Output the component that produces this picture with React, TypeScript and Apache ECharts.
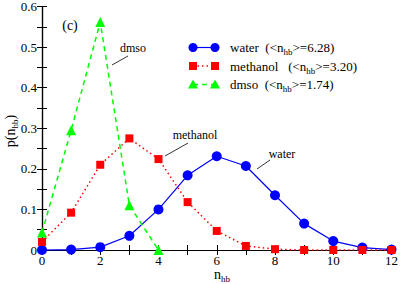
import React, { useEffect, useRef } from "react";
import * as echarts from "echarts";

const nValues = [0, 1, 2, 3, 4, 5, 6, 7, 8, 9, 10, 11, 12];
const waterP = [0.0, 0.001, 0.007, 0.035, 0.1, 0.184, 0.231, 0.207, 0.135, 0.065, 0.022, 0.006, 0.001];
const methanolP = [0.02, 0.092, 0.21, 0.275, 0.224, 0.118, 0.047, 0.01, 0.002, 0.0, 0.0, 0.0, 0.0];
const dmsoN = [0, 1, 2, 3, 4];
const dmsoP = [0.043, 0.295, 0.562, 0.11, 0.0];
const legendLabels = [
  { name: "water", mean: "6.28" },
  { name: "methanol", mean: "3.20" },
  { name: "dmso", mean: "1.74" },
];

const FONT = "Liberation Serif";

export default function App() {
  const ref = useRef<HTMLDivElement>(null);
  useEffect(() => {
    if (!ref.current) return;
    const chart = echarts.init(ref.current, null, { renderer: "svg" });
    const axisCommon = {
      axisLine: { show: true, lineStyle: { color: "#000", width: 1.2 } },
      axisTick: { show: true, inside: true, length: 5, lineStyle: { color: "#000", width: 1 } },
      splitLine: { show: false },
    };
    const rich = {
      a: { fontFamily: FONT, fontSize: 13, color: "#000", lineHeight: 16 },
      s: { fontFamily: FONT, fontSize: 9, color: "#000", lineHeight: 16, padding: [9, 0, 0, 0] },
    };
    const legendY = [47.5, 66, 84.5];
    const colors = ["#0000ff", "#ff0000", "#00ff00"];
    const legendGraphics: any[] = [];
    legendLabels.forEach((l, i) => {
      const y = legendY[i];
      const c = colors[i];
      legendGraphics.push({
        type: "line",
        shape: { x1: 193, y1: y, x2: 215, y2: y },
        style: { stroke: c, lineWidth: i === 0 ? 1.2 : 1.5, lineDash: i === 0 ? null : i === 1 ? [1.5, 3] : [5, 4] },
      });
      [193, 215].forEach((x) => {
        if (i === 0) legendGraphics.push({ type: "circle", shape: { cx: x, cy: y, r: 4.5 }, style: { fill: c } });
        else if (i === 1) legendGraphics.push({ type: "rect", shape: { x: x - 4, y: y - 4, width: 8, height: 8 }, style: { fill: c } });
        else legendGraphics.push({ type: "polygon", shape: { points: [[x, y - 5], [x - 5, y + 4], [x + 5, y + 4]] }, style: { fill: c } });
      });
      legendGraphics.push({
        type: "text",
        x: 230,
        y: y,
        style: {
          text: `{a|${l.name}${i === 1 ? "   " : "  "}(<n}{s|hb}{a|>=${l.mean})}`,
          rich,
          verticalAlign: "middle",
          align: "left",
        },
      });
    });
    chart.setOption({
      animation: false,
      grid: { left: 42, right: 6, top: 5, bottom: 34 },
      xAxis: [
        {
          type: "value", min: 0, max: 12, interval: 1, position: "bottom",
          ...axisCommon,
          axisLabel: {
            fontFamily: FONT, fontSize: 13, color: "#000", margin: 4,
            formatter: (v: number) => (Math.round(v) % 2 === 0 ? String(Math.round(v)) : ""),
          },
        },
        {
          type: "value", min: 0, max: 12, interval: 1, position: "top",
          ...axisCommon, axisLabel: { show: false },
        },
      ],
      yAxis: [
        {
          type: "value", min: 0, max: 0.6, interval: 0.05, position: "left",
          ...axisCommon,
          axisLabel: {
            fontFamily: FONT, fontSize: 13, color: "#000", margin: 5,
            formatter: (v: number) => {
              const k = Math.round(v * 100);
              if (k % 10 !== 0) return "";
              return k === 0 ? "0" : (k / 100).toFixed(1);
            },
          },
        },
        {
          type: "value", min: 0, max: 0.6, interval: 0.05, position: "right",
          ...axisCommon, axisLabel: { show: false },
        },
      ],
      series: [
        {
          name: "water", type: "line", clip: false,
          data: nValues.map((n, i) => [n, waterP[i]]),
          symbol: "circle", symbolSize: 10,
          lineStyle: { color: "#0000ff", width: 1.2 },
          itemStyle: { color: "#0000ff" },
        },
        {
          name: "methanol", type: "line", clip: false,
          data: nValues.map((n, i) => [n, methanolP[i]]),
          symbol: "rect", symbolSize: 8,
          lineStyle: { color: "#ff0000", width: 1.5, type: [1.5, 3] },
          itemStyle: { color: "#ff0000" },
        },
        {
          name: "dmso", type: "line", clip: false,
          data: dmsoN.map((n, i) => [n, dmsoP[i]]),
          symbol: "triangle", symbolSize: 10,
          lineStyle: { color: "#00ff00", width: 1.5, type: [5, 4] },
          itemStyle: { color: "#00ff00" },
        },
      ],
      graphic: [
        ...legendGraphics,
        { type: "text", x: 70, y: 25, style: { text: "(c)", fontFamily: FONT, fontSize: 14, fill: "#000", align: "center", verticalAlign: "middle" } },
        { type: "text", x: 133, y: 48, style: { text: "dmso", fontFamily: FONT, fontSize: 12, fill: "#000", align: "center", verticalAlign: "middle" } },
        { type: "line", shape: { x1: 128, y1: 56, x2: 112, y2: 65 }, style: { stroke: "#000", lineWidth: 0.8 } },
        { type: "text", x: 195, y: 135, style: { text: "methanol", fontFamily: FONT, fontSize: 12, fill: "#000", align: "center", verticalAlign: "middle" } },
        { type: "line", shape: { x1: 188, y1: 143, x2: 165, y2: 156 }, style: { stroke: "#000", lineWidth: 0.8 } },
        { type: "text", x: 282, y: 154, style: { text: "water", fontFamily: FONT, fontSize: 12, fill: "#000", align: "center", verticalAlign: "middle" } },
        { type: "line", shape: { x1: 270, y1: 160, x2: 257, y2: 169 }, style: { stroke: "#000", lineWidth: 0.8 } },
        {
          type: "text", x: 222, y: 274,
          style: { text: "{a|n}{s|hb}", rich: { a: { fontFamily: FONT, fontSize: 14, color: "#000", lineHeight: 16 }, s: { fontFamily: FONT, fontSize: 9, color: "#000", lineHeight: 16, padding: [10, 0, 0, 0] } }, align: "center", verticalAlign: "middle" },
        },
        {
          type: "text", x: 10, y: 131, rotation: Math.PI / 2,
          style: { text: "{a|p(n}{s|hb}{a|)}", rich: { a: { fontFamily: FONT, fontSize: 14, color: "#000", lineHeight: 16 }, s: { fontFamily: FONT, fontSize: 9, color: "#000", lineHeight: 16, padding: [10, 0, 0, 0] } }, align: "center", verticalAlign: "middle" },
        },
      ],
    });
    return () => chart.dispose();
  }, []);
  return <div ref={ref} style={{ width: 401, height: 284, position: "absolute", left: 0, top: 0 }} />;
}
